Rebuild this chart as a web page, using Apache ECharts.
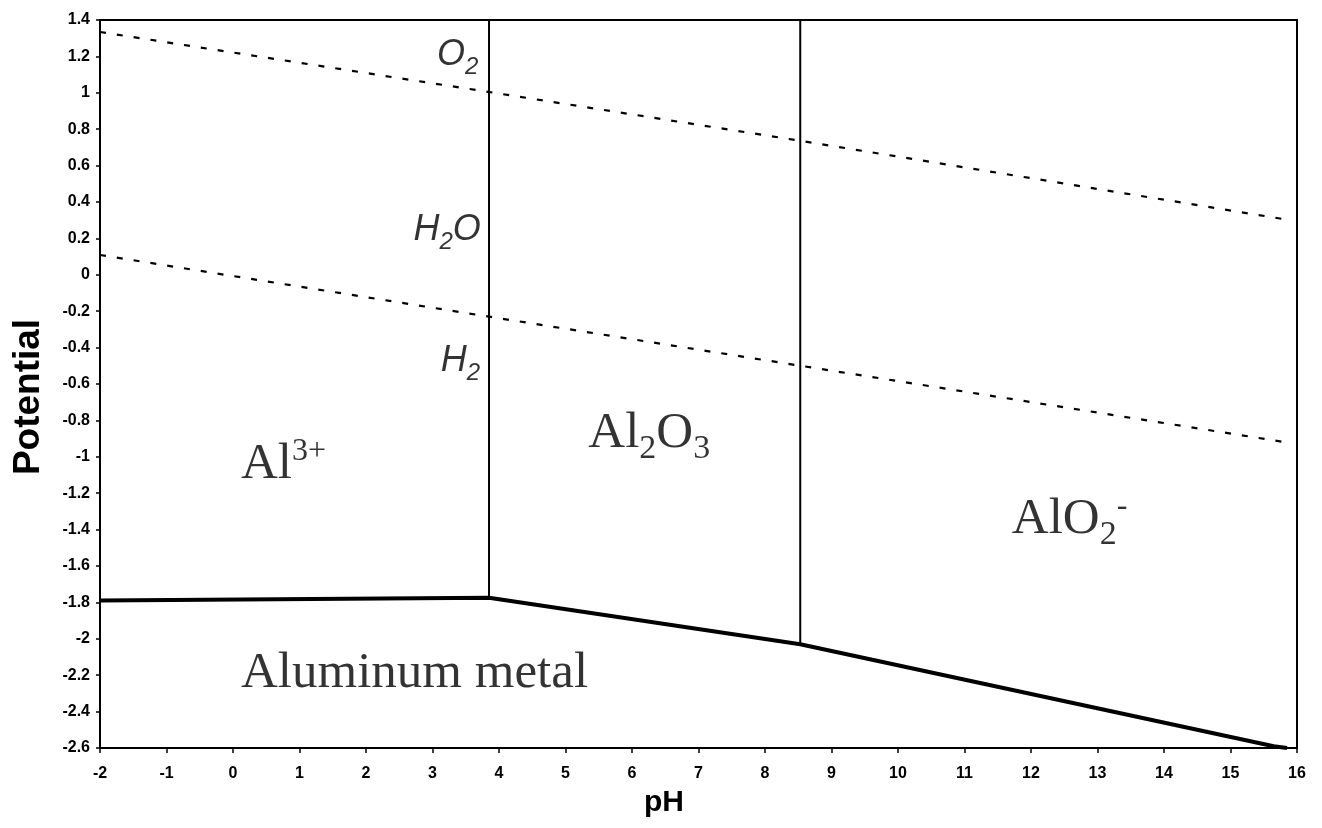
<!DOCTYPE html>
<html><head><meta charset="utf-8">
<script src="https://cdn.jsdelivr.net/npm/echarts@6/dist/echarts.min.js"></script>
<style>html,body{margin:0;padding:0;background:#fff}#c{width:1322px;height:828px}</style>
</head><body><div id="c"></div>
<script>
// Aluminum metal stability boundary
const metalPH = [-2, 3.85, 8.53, 15.65, 15.85];
const metalE  = [-1.79, -1.775, -2.03, -2.59, -2.6];
// vertical boundaries (Al3+/Al2O3, Al2O3/AlO2-)
const verticalPH = [3.85, 8.53];
const verticalBottomE = [-1.775, -2.03];
const verticalTopE = [1.4, 1.4];
// water stability lines (dashed)
const o2PH = [-2, 3.84, 8.52, 15.9];
const o2E  = [1.334, 1.005, 0.737, 0.30];
const h2PH = [-2, 3.85, 15.9];
const h2E  = [0.109, -0.23, -0.924];
// region / line labels
const labelText = ['{im|O}{is|2}', '{im|H}{is|2}{im|O}', '{im|H}{is|2}',
  '{m|Al}{sp|3+}', '{m|Al}{sb|2}{m|O}{sb|3}', '{m|AlO}{sb|2}{sp|-}', '{m|Aluminum metal}'];
const labelPH = [3.38, 3.22, 3.42, 0.76, 6.26, 12.58, 2.73];
const labelE  = [1.21, 0.245, -0.475, -1.041, -0.874, -1.347, -2.193];

const zip = (a, b) => a.map((v, i) => [v, b[i]]);
const chart = echarts.init(document.getElementById('c'));
const series = [];
series.push({type:'line', data: zip(metalPH, metalE), symbol:'none', lineStyle:{color:'#000', width:4}, z:5, animation:false});
verticalPH.forEach((p, i) => series.push({type:'line', data:[[p, verticalBottomE[i]], [p, verticalTopE[i]]], symbol:'none', lineStyle:{color:'#000', width:2}, animation:false}));
series.push({type:'line', data: zip(o2PH, o2E), symbol:'none', lineStyle:{color:'#000', width:2.2, type:[6,11]}, animation:false});
series.push({type:'line', data: zip(h2PH, h2E), symbol:'none', lineStyle:{color:'#000', width:2.2, type:[6,11]}, animation:false});
series.push({type:'scatter', symbolSize:0, animation:false, z:10,
  data: labelText.map((t, i) => ({name:t, value:[labelPH[i], labelE[i]]})),
  label:{show:true, position:'inside', formatter: p => p.name, color:'#000', textBorderWidth:0,
    rich:{
      m:{fontFamily:'Liberation Serif', fontSize:51, color:'#000'},
      sb:{fontFamily:'Liberation Serif', fontSize:34, color:'#000', padding:[30,0,0,0]},
      sp:{fontFamily:'Liberation Serif', fontSize:32, color:'#000', padding:[0,0,26,0]},
      im:{fontFamily:'Liberation Sans', fontStyle:'italic', fontSize:36, color:'#000'},
      is:{fontFamily:'Liberation Sans', fontStyle:'italic', fontSize:24, color:'#000', padding:[25,0,0,0]}
    }}
});
const axisLbl = {color:'#000', fontFamily:'Liberation Sans', fontWeight:'bold', fontSize:16};
chart.setOption({
  backgroundColor:'#fff',
  animation:false,
  grid:{left:100, right:25, top:20, bottom:80, show:true, borderColor:'#000', borderWidth:2, backgroundColor:'transparent'},
  xAxis:{type:'value', min:-2, max:16, interval:1,
    axisLine:{onZero:false, lineStyle:{color:'#000', width:2}},
    axisTick:{show:true, length:5, lineStyle:{color:'#000', width:1.5}},
    splitLine:{show:false},
    axisLabel:{...axisLbl, margin:18}},
  yAxis:{type:'value', min:-2.6, max:1.4, interval:0.2,
    axisLine:{onZero:false, show:true, lineStyle:{color:'#000', width:2}},
    axisTick:{show:true, length:4, lineStyle:{color:'#000', width:1.5}},
    splitLine:{show:false},
    axisLabel:{...axisLbl, margin:10, formatter: v => String(+v.toFixed(1))}},
  graphic:[
    {type:'text', x:29, y:397, rotation:Math.PI/2, style:{text:'Potential', fontFamily:'Liberation Sans', fontWeight:'bold', fontSize:37, fill:'#000', align:'center', verticalAlign:'middle'}},
    {type:'text', x:664, y:803, style:{text:'pH', fontFamily:'Liberation Sans', fontWeight:'bold', fontSize:30, fill:'#000', align:'center', verticalAlign:'middle'}}
  ],
  series: series
});
</script></body></html>
